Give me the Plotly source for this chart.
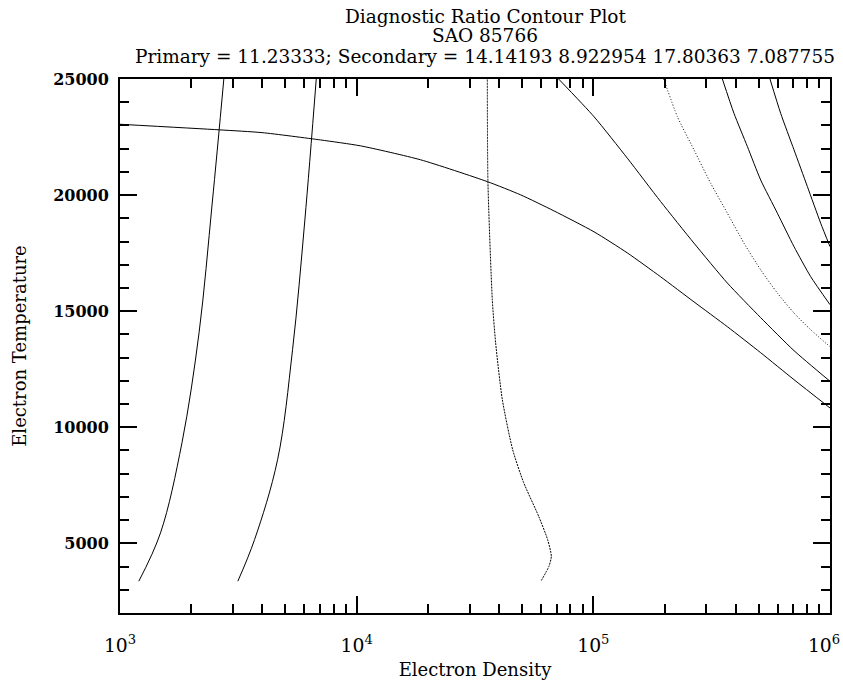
import plotly.graph_objects as go

# Contour curves (electron density, electron temperature)
A_dens = [1201, 1483, 1828, 2158, 2453, 2746]
A_temp = [3370, 5450, 9340, 14070, 19660, 25000]

B_dens = [3147, 3703, 4632, 5359, 6041, 6748]
B_temp = [3370, 5160, 8600, 13340, 18930, 25000]

C_dens = [60290, 64930, 66460, 64110, 58730, 50750, 45600, 41250, 38650, 37420, 35860, 35650]
C_temp = [3400, 4010, 4440, 5160, 6170, 7620, 9040, 11190, 13640, 15490, 20580, 25000]

D_dens = [1000, 2632, 3986, 7038, 10390, 18630, 35650, 49290, 68150, 100600, 139200,
          192500, 266200, 368500, 509500, 704500, 1000000]
D_temp = [23050, 22810, 22690, 22375, 22120, 21520, 20580, 20010, 19320, 18420, 17510,
          16480, 15400, 14330, 13210, 12050, 10830]

E_dens = [71340, 100600, 139200, 192500, 266200, 368500, 509500, 704500, 1000000]
E_temp = [25000, 23380, 21590, 19720, 17930, 16210, 14720, 13300, 11980]

F_dens = [198200, 226500, 266200, 313200, 368500, 433100, 509500, 599400, 704500, 828500, 1000000]
F_temp = [25000, 23380, 21950, 20510, 19220, 17930, 16780, 15780, 14920, 14200, 13470]

G_dens = [350900, 392900, 447700, 509500, 599400, 704500, 828500, 1000000]
G_temp = [25000, 23520, 22090, 20650, 19220, 17780, 16490, 15280]

H_dens = [557700, 618900, 704500, 802400, 913300, 1000000]
H_temp = [25000, 23520, 21950, 20370, 18790, 17780]

title_lines = [
    "Diagnostic Ratio Contour Plot",
    "SAO 85766",
    "Primary = 11.23333; Secondary = 14.14193 8.922954 17.80363 7.087755",
]

curves = [
    (A_dens, A_temp, "solid", 1.0),
    (B_dens, B_temp, "solid", 1.0),
    (C_dens, C_temp, "2px,1px", 0.6),
    (D_dens, D_temp, "solid", 0.6),
    (E_dens, E_temp, "solid", 0.6),
    (F_dens, F_temp, "1px,2px", 0.6),
    (G_dens, G_temp, "solid", 0.6),
    (H_dens, H_temp, "solid", 0.6),
]

fig = go.Figure()
for xs, ys, dash, sm in curves:
    fig.add_trace(go.Scatter(
        x=xs, y=ys, mode="lines",
        line=dict(color="black", width=1, dash=dash, shape="spline", smoothing=sm),
        showlegend=False, hoverinfo="skip", cliponaxis=True,
    ))

font_title = "DejaVu Serif"
font_tick = "DejaVu Serif"

axis_common = dict(
    showline=True, linecolor="black", linewidth=2, mirror="ticks",
    ticks="inside", tickcolor="black", tickwidth=2, ticklen=17,
    showgrid=False, zeroline=False, automargin=False,
    minor=dict(ticks="inside", ticklen=9, tickwidth=2, tickcolor="black", showgrid=False),
    ticklabeloverflow="allow",
)

fig.update_xaxes(
    type="log", range=[3, 6], dtick=1, exponentformat="power",
    labelalias={"10<sup>6</sup>": "10<sup>6</sup>\u00a0\u00a0"},
    tickfont=dict(family=font_tick, size=15, color="black"),
    title=dict(text="Electron Density", font=dict(family=font_title, size=18, color="black"), standoff=9),
    ticklabelstandoff=15,
    **axis_common,
)
fig.update_yaxes(
    range=[2000, 25000], dtick=5000, tick0=0, tickformat="d",
    tickfont=dict(family=font_tick, size=16, color="black", weight="bold"),
    title=dict(text="Electron Temperature", font=dict(family=font_title, size=18, color="black"), standoff=22),
    ticklabelstandoff=6,
    **axis_common,
)
fig.update_yaxes(minor_dtick=1000)

cx = (485 - 120) / 710
for txt, yp in zip(title_lines, [16, 36, 57]):
    fig.add_annotation(
        text=txt, xref="paper", yref="paper", x=cx, y=1 + (79 - yp) / 534,
        showarrow=False, xanchor="center", yanchor="middle",
        font=dict(family=font_title, size=18.5, color="black"),
    )

fig.update_layout(
    width=843, height=685,
    margin=dict(l=120, r=13, t=79, b=72),
    paper_bgcolor="white", plot_bgcolor="white",
)

fig.write_html("out.html")
